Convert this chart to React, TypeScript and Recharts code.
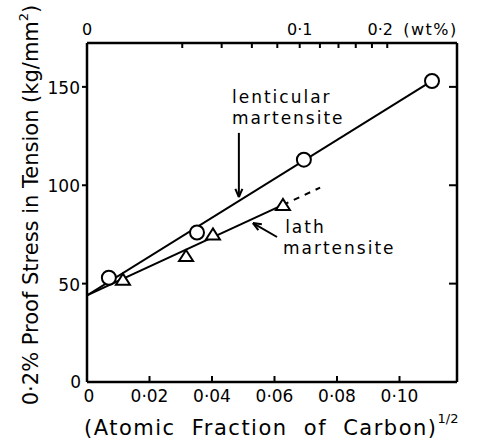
import React from "react";
import {
  ComposedChart,
  Line,
  Scatter,
  XAxis,
  YAxis,
  ReferenceLine,
  ReferenceDot,
} from "recharts";

// measured points
const lenticularX = [0.007, 0.0352, 0.0694, 0.1104];
const lenticularY = [53, 76, 113, 153];
const lathX = [0.0115, 0.0317, 0.0403, 0.0627];
const lathY = [52, 64, 75, 90];

// fitted lines (end points)
const lenticularFitX = [0, 0.1104];
const lenticularFitY = [44, 153];
const lathFitX = [0, 0.0627];
const lathFitY = [44, 90];
const lathDashX = [0.0627, 0.0746];
const lathDashY = [90, 98.8];

// axes
const xMax = 0.1184;
const yMax = 172.3;
const bottomTicks = [0, 0.02, 0.04, 0.06, 0.08, 0.1];
const bottomLabels = ["0", "0·02", "0·04", "0·06", "0·08", "0·10"];
const leftTicks = [0, 50, 100, 150];
const leftLabels = ["0", "50", "100", "150"];
const markTicksY = [50, 100, 150];
const wtTicks = [0, 0.02, 0.04, 0.06, 0.08, 0.1, 0.12, 0.14, 0.16, 0.18, 0.2];
const wtLabels = ["0", "", "", "", "", "0·1", "", "", "", "", "0·2"];

const FONT = "'DejaVu Sans', sans-serif";

const toPts = (xs: number[], ys: number[]) => xs.map((x, i) => ({ x, y: ys[i] }));

// wt% carbon in iron -> (atomic fraction)^1/2
const wtToAxis = (wt: number) => {
  const c = wt / 12.011;
  const fe = (100 - wt) / 55.845;
  return Math.sqrt(c / (c + fe));
};
const topTicks = wtTicks.map(wtToAxis);

const BottomTick = (props: any) => {
  const { x, y, index } = props;
  return (
    <text
      x={index === 0 ? x + 2 : x}
      y={y + 14}
      textAnchor="middle"
      dominantBaseline="central"
      fontFamily={FONT}
      fontSize={17}
      fill="#000"
    >
      {bottomLabels[index]}
    </text>
  );
};

const TopTick = (props: any) => {
  const { x, y, index } = props;
  const label = wtLabels[index];
  const ty = y - 14;
  const last = index === wtTicks.length - 1;
  return (
    <g>
      {label && (
        <text x={last ? x - 7 : x} y={ty} textAnchor="middle" dominantBaseline="central" fontFamily={FONT} fontSize={16} fill="#000">
          {label}
        </text>
      )}
      {last && (
        <text x={x + 16} y={ty} dominantBaseline="central" fontFamily={FONT} fontSize={16} letterSpacing={1.5} fill="#000">
          (wt%)
        </text>
      )}
    </g>
  );
};

const LeftTick = (props: any) => {
  const { x, y, index } = props;
  return (
    <text
      x={index === 0 ? x - 6 : x - 7}
      y={index === 0 ? y : y + 1}
      textAnchor="end"
      dominantBaseline="central"
      fontFamily={FONT}
      fontSize={17}
      fill="#000"
    >
      {leftLabels[index]}
    </text>
  );
};

// short tick marks, drawn as filled rects at one end of a reference line
const tickAt = (where: "bottom" | "top" | "left" | "right", len: number) => (props: any) => {
  const x1 = Number(props.x1);
  const x2 = Number(props.x2);
  const y1 = Number(props.y1);
  const y2 = Number(props.y2);
  if (where === "bottom") {
    const yb = Math.max(y1, y2);
    return <rect x={x1 - 1} y={yb - len} width={2} height={len} fill="#000" />;
  }
  if (where === "top") {
    const yt = Math.min(y1, y2);
    return <rect x={x1 - 1} y={yt} width={2} height={len} fill="#000" />;
  }
  if (where === "left") {
    const xl = Math.min(x1, x2);
    return <rect x={xl - len} y={y1 - 1} width={len} height={2} fill="#000" />;
  }
  const xr = Math.max(x1, x2);
  return <rect x={xr - len} y={y1 - 1} width={len} height={2} fill="#000" />;
};

const Spine = (props: any) => (
  <line x1={props.x1} y1={props.y1} x2={props.x2} y2={props.y2} stroke="#000" strokeWidth={2.5} />
);

const CircleMark = (props: any) => (
  <circle cx={props.cx} cy={props.cy} r={7} fill="#fff" stroke="#000" strokeWidth={2} />
);

const TriangleMark = (props: any) => {
  const { cx, cy } = props;
  return (
    <path
      d={`M${cx},${cy - 6} L${cx - 7},${cy + 5} L${cx + 7},${cy + 5} Z`}
      fill="#fff"
      stroke="#000"
      strokeWidth={2}
    />
  );
};

const Arrow = (props: any) => {
  const { x1, y1, x2, y2 } = props;
  const a = Math.atan2(y2 - y1, x2 - x1);
  const L = 9;
  const w = 0.4;
  return (
    <g>
      <line x1={x1} y1={y1} x2={x2} y2={y2} stroke="#000" strokeWidth={2} />
      <line x1={x2} y1={y2} x2={x2 - L * Math.cos(a - w)} y2={y2 - L * Math.sin(a - w)} stroke="#000" strokeWidth={2} />
      <line x1={x2} y1={y2} x2={x2 - L * Math.cos(a + w)} y2={y2 - L * Math.sin(a + w)} stroke="#000" strokeWidth={2} />
    </g>
  );
};

const noteText = (text: string) => (props: any) => (
  <text
    x={props.cx}
    y={props.cy}
    dominantBaseline="central"
    fontFamily={FONT}
    fontSize={17}
    letterSpacing={2}
    fill="#000"
  >
    {text}
  </text>
);

const YLabel = () => {
  const cx = 31;
  const cy = 205;
  return (
    <text
      x={cx}
      y={cy}
      transform={`rotate(-90 ${cx} ${cy})`}
      textAnchor="middle"
      dominantBaseline="central"
      fontFamily={FONT}
      fontSize={21}
      fill="#000"
    >
      0·2% Proof Stress in Tension (kg/mm<tspan dy={-8} fontSize={13}>2</tspan><tspan dy={8}>)</tspan>
    </text>
  );
};

const XLabel = () => (
  <text
    x={84}
    y={428}
    dominantBaseline="central"
    fontFamily={FONT}
    fontSize={21}
    letterSpacing={1.5}
    wordSpacing={8}
    fill="#000"
  >
    (Atomic Fraction of Carbon)<tspan dy={-10} fontSize={13} letterSpacing={0}>1/2</tspan>
  </text>
);

export default function App() {
  return (
    <div style={{ position: "absolute", left: 0, top: 0, background: "#fff" }}>
      <ComposedChart width={477} height={445} margin={{ top: 0, right: 20, bottom: 0, left: 0 }}>
        <XAxis
          xAxisId="b"
          type="number"
          dataKey="x"
          domain={[0, xMax]}
          ticks={bottomTicks}
          interval={0}
          orientation="bottom"
          height={63}
          tickSize={0}
          tickMargin={0}
          tickLine={false}
          tick={<BottomTick />}
          axisLine={{ stroke: "#000", strokeWidth: 2.5 }}
          label={{ content: <XLabel /> }}
          allowDataOverflow
        />
        <XAxis
          xAxisId="t"
          type="number"
          dataKey="x"
          domain={[0, xMax]}
          ticks={topTicks}
          interval={0}
          orientation="top"
          height={43}
          tickSize={0}
          tickMargin={0}
          tickLine={false}
          tick={<TopTick />}
          axisLine={{ stroke: "#000", strokeWidth: 2.5 }}
          allowDataOverflow
        />
        <YAxis
          yAxisId="l"
          type="number"
          dataKey="y"
          domain={[0, yMax]}
          ticks={leftTicks}
          interval={0}
          width={87}
          tickSize={0}
          tickMargin={0}
          tickLine={false}
          tick={<LeftTick />}
          axisLine={{ stroke: "#000", strokeWidth: 2.5 }}
          label={{ content: <YLabel /> }}
          allowDataOverflow
        />

        <ReferenceLine xAxisId="b" yAxisId="l" x={xMax} shape={<Spine />} />
        {bottomTicks.slice(1).map((v) => (
          <ReferenceLine key={`b${v}`} xAxisId="b" yAxisId="l" x={v} shape={tickAt("bottom", 6)} />
        ))}
        {topTicks.slice(1).map((v) => (
          <ReferenceLine key={`t${v}`} xAxisId="t" yAxisId="l" x={v} shape={tickAt("top", 5)} />
        ))}
        {markTicksY.map((v) => (
          <ReferenceLine key={`l${v}`} xAxisId="b" yAxisId="l" y={v} shape={tickAt("left", 5)} />
        ))}
        {markTicksY.map((v) => (
          <ReferenceLine key={`r${v}`} xAxisId="b" yAxisId="l" y={v} shape={tickAt("right", 8)} />
        ))}

        <Line
          xAxisId="b"
          yAxisId="l"
          data={toPts(lenticularFitX, lenticularFitY)}
          dataKey="y"
          type="linear"
          stroke="#000"
          strokeWidth={2}
          dot={false}
          activeDot={false}
          isAnimationActive={false}
        />
        <Line
          xAxisId="b"
          yAxisId="l"
          data={toPts(lathFitX, lathFitY)}
          dataKey="y"
          type="linear"
          stroke="#000"
          strokeWidth={2}
          dot={false}
          activeDot={false}
          isAnimationActive={false}
        />
        <Line
          xAxisId="b"
          yAxisId="l"
          data={toPts(lathDashX, lathDashY)}
          dataKey="y"
          type="linear"
          stroke="#000"
          strokeWidth={2}
          strokeDasharray="6 6"
          dot={false}
          activeDot={false}
          isAnimationActive={false}
        />
        <Scatter
          xAxisId="b"
          yAxisId="l"
          data={toPts(lenticularX, lenticularY)}
          dataKey="y"
          shape={<CircleMark />}
          isAnimationActive={false}
        />
        <Scatter
          xAxisId="b"
          yAxisId="l"
          data={toPts(lathX, lathY)}
          dataKey="y"
          shape={<TriangleMark />}
          isAnimationActive={false}
        />

        <ReferenceLine
          xAxisId="b"
          yAxisId="l"
          segment={[{ x: 0.0486, y: 126.6 }, { x: 0.0486, y: 94 }]}
          shape={<Arrow />}
        />
        <ReferenceLine
          xAxisId="b"
          yAxisId="l"
          segment={[{ x: 0.0608, y: 73.7 }, { x: 0.0531, y: 80.8 }]}
          shape={<Arrow />}
        />
        <ReferenceDot xAxisId="b" yAxisId="l" x={0.0464} y={144.9} shape={noteText("lenticular")} />
        <ReferenceDot xAxisId="b" yAxisId="l" x={0.0464} y={134.2} shape={noteText("martensite")} />
        <ReferenceDot xAxisId="b" yAxisId="l" x={0.0634} y={78.8} shape={noteText("lath")} />
        <ReferenceDot xAxisId="b" yAxisId="l" x={0.0627} y={68.1} shape={noteText("martensite")} />
      </ComposedChart>
    </div>
  );
}
